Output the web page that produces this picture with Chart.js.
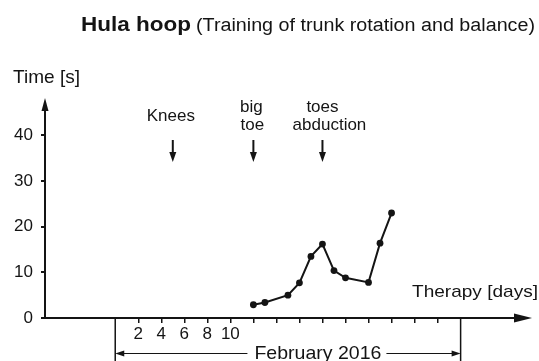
<!DOCTYPE html>
<html>
<head>
<meta charset="utf-8">
<title>Hula hoop</title>
<script src="https://cdn.jsdelivr.net/npm/chart.js@4.4.1/dist/chart.umd.min.js"></script>
<style>
  html, body { margin: 0; padding: 0; background: #fff; }
  canvas { display: block; }
</style>
</head>
<body>
<canvas id="chart" width="539" height="361"></canvas>
<script>
// therapy day (February 2016) and how long the hoop was kept going, in seconds
const days = [12, 13, 15, 16, 17, 18, 19, 20, 22, 23, 24]
const times = [2.9, 3.4, 5.0, 7.7, 13.5, 16.2, 10.4, 8.8, 7.8, 16.4, 23.0]

const yTicks = [0, 10, 20, 30, 40]
const xTicks = [2, 4, 6, 8, 10, 12, 14, 16, 18, 20, 22, 24, 26, 28]
const xLabelled = [2, 4, 6, 8, 10]

// days where the exercise was changed
const eventDays = [5, 12, 18]
const eventLabels = [['Knees'], ['big', 'toe'], ['toes', 'abduction']]
const eventShift = [[-2], [-2, -1], [0, 7]]

// month bracket under the day axis
const monthRange = [0, 30]
const monthLabel = 'February 2016'

const ink = '#141414'
const family = '"Liberation Sans", Arial, sans-serif'

// text drawn with an optional horizontal stretch to a given width
const drawText = (ctx, str, x, y, font, align, width) =>
{
	ctx.save()
	ctx.font = font
	ctx.fillStyle = ink
	ctx.textBaseline = 'alphabetic'
	ctx.textAlign = align
	const w = ctx.measureText(str).width
	ctx.translate(x, y)
	if (width) ctx.scale(width / w, 1)
	ctx.fillText(str, 0, 0)
	ctx.restore()
}

const arrowHead = (ctx, tipX, tipY, dx, dy, len, half) =>
{
	// dx, dy: unit direction the arrow points to
	const bx = tipX - dx * len, by = tipY - dy * len
	ctx.beginPath()
	ctx.moveTo(tipX, tipY)
	ctx.lineTo(bx - dy * half, by + dx * half)
	ctx.lineTo(bx + dy * half, by - dx * half)
	ctx.closePath()
	ctx.fill()
}

const decorations = {
	id: 'decorations',
	afterDraw(chart)
	{
		const ctx = chart.ctx
		const x = chart.scales.x
		const y = chart.scales.y
		const area = chart.chartArea
		const x0 = x.getPixelForValue(x.min)
		const y0 = y.getPixelForValue(0)

		ctx.save()
		ctx.strokeStyle = ink
		ctx.fillStyle = ink
		ctx.lineWidth = 2

		// axes with arrow heads
		ctx.beginPath()
		ctx.moveTo(x0, y0 + 1)
		ctx.lineTo(x0, area.top + 10)
		ctx.moveTo(x0, y0)
		ctx.lineTo(area.right - 12, y0)
		ctx.stroke()
		arrowHead(ctx, x0, area.top, 0, -1, 13, 3.5)
		arrowHead(ctx, area.right, y0, 1, 0, 18, 4.5)

		// titles and axis names
		drawText(ctx, 'Hula hoop', 81, 31, 'bold 21px ' + family, 'left', 110)
		drawText(ctx, '(Training of trunk rotation and balance)', 196, 31, '18px ' + family, 'left', 339)
		drawText(ctx, 'Time [s]', 13, 83, '18.5px ' + family, 'left', 67)
		drawText(ctx, 'Therapy [days]', 538, 296.5, '17px ' + family, 'right', 126)

		// exercise change markers
		eventDays.forEach((d, i) =>
		{
			const px = x.getPixelForValue(d)
			const lines = eventLabels[i]
			lines.forEach((t, j) =>
			{
				const base = 120.75 + (j - (lines.length - 1) / 2) * 18.5
				drawText(ctx, t, px + eventShift[i][j], base, '17px ' + family, 'center')
			})
			ctx.beginPath()
			ctx.moveTo(px, 140)
			ctx.lineTo(px, 153)
			ctx.stroke()
			arrowHead(ctx, px, 162, 0, 1, 10, 3.5)
		})

		// month bracket, its label sits right of centre
		const m0 = x.getPixelForValue(monthRange[0])
		const m1 = x.getPixelForValue(monthRange[1])
		const mid = (m0 + m1) / 2 + 30
		const by = 353.5
		ctx.lineWidth = 1.5
		ctx.beginPath()
		ctx.moveTo(m0, y0)
		ctx.lineTo(m0, chart.height)
		ctx.moveTo(m1, y0)
		ctx.lineTo(m1, chart.height)
		ctx.stroke()
		const half = 127 / 2
		ctx.lineWidth = 1.2
		ctx.beginPath()
		ctx.moveTo(m0 + 6, by)
		ctx.lineTo(mid - half - 7, by)
		ctx.moveTo(mid + half + 5, by)
		ctx.lineTo(m1 - 6, by)
		ctx.stroke()
		arrowHead(ctx, m0, by, -1, 0, 9, 3)
		arrowHead(ctx, m1, by, 1, 0, 9, 3)
		drawText(ctx, monthLabel, mid, 358.5, '18.5px ' + family, 'center', 127)
		ctx.restore()
	}
}

const tickFont = { family: 'Liberation Sans', size: 17 }

new Chart(document.getElementById('chart'),
{
	type: 'line',
	data: {
		datasets: [{
			data: days.map((d, i) => ({ x: d, y: times[i] })),
			borderColor: ink,
			borderWidth: 2,
			pointRadius: 3.4,
			pointBackgroundColor: ink,
			pointBorderColor: ink,
			pointBorderWidth: 0,
			tension: 0
		}]
	},
	options: {
		responsive: false,
		devicePixelRatio: 1,
		animation: false,
		layout: { padding: { top: 98, right: 7, left: 0, bottom: 0 } },
		plugins: {
			legend: { display: false },
			tooltip: { enabled: false }
		},
		scales: {
			x: {
				type: 'linear',
				min: -6.1,
				max: 36.2,
				afterFit: scale => { scale.height = 43 },
				afterBuildTicks: scale => { scale.ticks = xTicks.map(v => ({ value: v })) },
				border: { display: false },
				grid: { drawOnChartArea: false, drawTicks: true, tickLength: 5, color: ink, lineWidth: 1.5 },
				ticks: {
					color: ink,
					font: tickFont,
					padding: 1,
					maxRotation: 0,
					autoSkip: false,
					callback: v => xLabelled.includes(v) ? String(v) : ''
				}
			},
			y: {
				min: 0,
				max: 48.2,
				afterFit: scale => { scale.width = 45 },
				afterBuildTicks: scale => { scale.ticks = yTicks.map(v => ({ value: v })) },
				border: { display: false },
				grid: { drawOnChartArea: false, drawTicks: true, tickLength: 4, color: ink, lineWidth: 2 },
				ticks: { color: ink, font: tickFont, padding: 8 }
			}
		}
	},
	plugins: [decorations]
})
</script>
</body>
</html>
